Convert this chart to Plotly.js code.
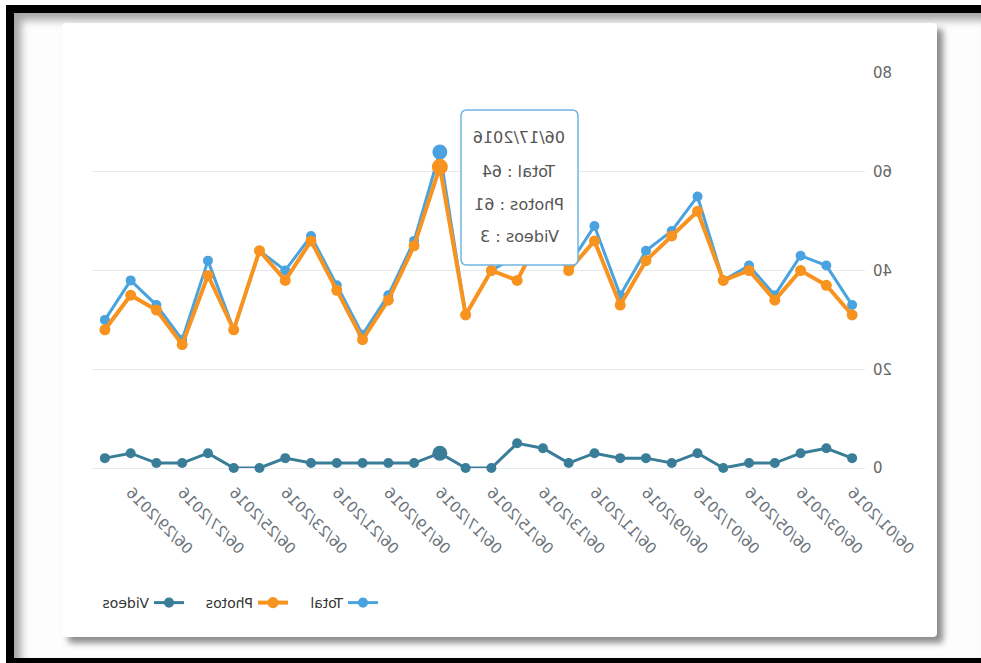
<!DOCTYPE html>
<html style="background:#fff;">
<head>
<meta charset="utf-8">
<script src="https://cdn.plot.ly/plotly-3.0.1.min.js"></script>
<style>
html,body{margin:0;padding:0;background:#fff;overflow:hidden;scrollbar-width:none;}
::-webkit-scrollbar{display:none;width:0;height:0;}
body{position:relative;width:981px;height:663px;}
.blk{position:absolute;background:#000;}
#inner{position:absolute;left:14px;top:13px;width:967px;height:645px;background:#fdfdfd;box-shadow:inset 7px 7px 9px rgba(0,0,0,0.35);}
#card{position:absolute;left:62px;top:23px;width:875px;height:614px;background:#fff;border-radius:4px;box-shadow:6px 6px 6px rgba(0,0,0,0.45);}
#chart{position:absolute;left:0;top:0;width:981px;height:663px;transform:scaleX(-1);transform-origin:50% 50%;}
</style>
</head>
<body>
<div id="inner"></div>
<div class="blk" style="left:6px;top:5px;width:975px;height:8px;"></div>
<div class="blk" style="left:6px;top:5px;width:8px;height:658px;"></div>
<div class="blk" style="left:6px;top:658px;width:975px;height:5px;"></div>
<div id="card"></div>
<div id="chart"></div>
<script>
// Data
var dates = ['06/01/2016','06/02/2016','06/03/2016','06/04/2016','06/05/2016','06/06/2016',
             '06/07/2016','06/08/2016','06/09/2016','06/10/2016','06/11/2016','06/12/2016',
             '06/13/2016','06/14/2016','06/15/2016','06/16/2016','06/17/2016','06/18/2016',
             '06/19/2016','06/20/2016','06/21/2016','06/22/2016','06/23/2016','06/24/2016',
             '06/25/2016','06/26/2016','06/27/2016','06/28/2016','06/29/2016','06/30/2016'];
var total  = [33,41,43,35,41,38,55,48,44,35,49,41,52,43,40,31,64,46,35,27,37,47,40,44,28,42,26,33,38,30];
var photos = [31,37,40,34,40,38,52,47,42,33,46,40,48,38,40,31,61,45,34,26,36,46,38,44,28,39,25,32,35,28];
var videos = [ 2, 4, 3, 1, 1, 0, 3, 1, 2, 2, 3, 1, 4, 5, 0, 0, 3, 1, 1, 1, 1, 1, 2, 0, 0, 3, 1, 1, 3, 2];
var seriesNames = ['Total','Photos','Videos'];
var yTicks = [0,20,40,60,80];
var hoverDate = '06/17/2016';

// Styling
var FONT = 'DejaVu Sans, Arial, sans-serif';
var colors = {Total:'#4aa3df', Photos:'#f7931e', Videos:'#3a7d99'};
var M = {l:116, r:92, t:73, b:195};
var W = 981, H = 663;
var PW = W - M.l - M.r, PH = H - M.t - M.b;

function sizes(base, big){ return dates.map(function(d){ return d === hoverDate ? big : base; }); }
function mk(color, base, big){ return {color:color, size:sizes(base,big), opacity:1, line:{width:0, color:color}}; }

var traces = [
  {name:seriesNames[0], x:dates, y:total, type:'scatter', mode:'lines+markers', cliponaxis:false, opacity:1,
   line:{color:colors.Total, width:3}, marker:mk(colors.Total,10,15), legendwidth:45},
  {name:seriesNames[1], x:dates, y:photos, type:'scatter', mode:'lines+markers', cliponaxis:false, opacity:1,
   line:{color:colors.Photos, width:4}, marker:mk(colors.Photos,11,16), legendwidth:59},
  {name:seriesNames[2], x:dates, y:videos, type:'scatter', mode:'lines+markers', cliponaxis:false, opacity:1,
   line:{color:colors.Videos, width:3}, marker:mk(colors.Videos,10,15), legendwidth:50}
];

var tickIdx = dates.map(function(d,i){return i;}).filter(function(i){return i % 2 === 0;});

// tooltip box (pixel -> paper)
function pxX(px){ return (px - M.l) / PW; }
function pxY(py){ return (H - M.b - py) / PH; }
var hi = dates.indexOf(hoverDate);
var bx0 = 403, bx1 = 520, by0 = 110, by1 = 265, rr = 6;
function P(x,y){ return pxX(x).toFixed(5) + ',' + pxY(y).toFixed(5); }
var boxPath = 'M' + P(bx0+rr,by0) + ' L' + P(bx1-rr,by0) + ' Q' + P(bx1,by0) + ' ' + P(bx1,by0+rr) +
  ' L' + P(bx1,by1-rr) + ' Q' + P(bx1,by1) + ' ' + P(bx1-rr,by1) +
  ' L' + P(bx0+rr,by1) + ' Q' + P(bx0,by1) + ' ' + P(bx0,by1-rr) +
  ' L' + P(bx0,by0+rr) + ' Q' + P(bx0,by0) + ' ' + P(bx0+rr,by0) + ' Z';

var tipLines = [dates[hi], seriesNames[0] + ' : ' + total[hi], seriesNames[1] + ' : ' + photos[hi], seriesNames[2] + ' : ' + videos[hi]];
var tipY = [137, 171, 204, 236];
var annotations = tipLines.map(function(t, i){
  return {xref:'paper', yref:'paper', x:pxX((bx0+bx1)/2), y:pxY(tipY[i]), text:t, showarrow:false,
          xanchor:'center', yanchor:'middle', font:{family:FONT, size:16, color:'#555'}};
});

var layout = {
  width:W, height:H, margin:M,
  paper_bgcolor:'rgba(0,0,0,0)', plot_bgcolor:'rgba(0,0,0,0)',
  font:{family:FONT},
  showlegend:true,
  legend:{orientation:'h', x:pxX(598), xanchor:'left', y:pxY(603), yanchor:'middle',
          font:{family:FONT, size:14, color:'#333'}, bgcolor:'rgba(0,0,0,0)', traceorder:'normal'},
  xaxis:{type:'category', range:[-0.5, dates.length - 0.5], showgrid:false, zeroline:false, showline:false,
         tickmode:'array', tickvals:tickIdx.map(function(i){return dates[i];}), ticktext:tickIdx.map(function(i){return dates[i];}),
         tickangle:-45, ticks:'', ticklabelstandoff:12, tickfont:{family:FONT, size:15, color:'#6b737c'}, fixedrange:true},
  yaxis:{range:[0,80], tickmode:'array', tickvals:yTicks, showgrid:true, gridcolor:'#e6e9ee', gridwidth:1,
         zeroline:true, zerolinecolor:'#e6e9ee', zerolinewidth:1, showline:false, ticks:'', ticklabelstandoff:7,
         tickfont:{family:FONT, size:15, color:'#666'}, fixedrange:true},
  shapes:[{type:'path', xref:'paper', yref:'paper', path:boxPath, fillcolor:'#ffffff',
           line:{color:'#6fb5e4', width:1.5}, layer:'above'}],
  annotations:annotations
};

Plotly.newPlot('chart', traces, layout, {displayModeBar:false, staticPlot:true});
</script>
</body>
</html>
